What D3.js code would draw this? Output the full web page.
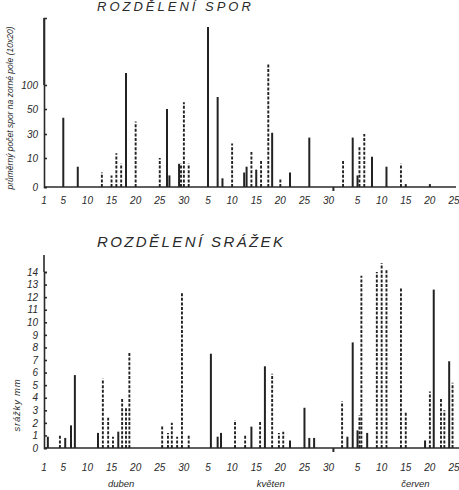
<!DOCTYPE html>
<html>
<head>
<meta charset="utf-8">
<script src="https://cdn.jsdelivr.net/npm/d3@7"></script>
<style>
  body { margin: 0; background: #fff; }
  svg text { font-family: "Liberation Sans", "DejaVu Sans", sans-serif; font-style: italic; fill: #2a2a2a; }
  .axis path, .axis line { stroke: #2a2a2a; stroke-width: 1.6; }
  .bar { stroke: #222; stroke-width: 2; }
  .bar.dash { stroke-dasharray: 3, 1.6; stroke-width: 1.9; }
</style>
</head>
<body>
<div id="chart"></div>
<script>
// day 1 = 1 April, day 31 = 1 May, day 62 = 1 June
var dayTicks   = [1, 5, 10, 15, 20, 25, 30, 35, 40, 45, 50, 55, 60, 66, 71, 76, 81, 86];
var dayLabels  = ["1","5","10","15","20","25","30","5","10","15","20","25","30","5","10","15","20","25"];
var months     = ["duben", "květen", "červen"];
var monthMid   = [17, 48, 78];
var monthEnds  = [61];

// spory: [den, hodnota, druh]  (s = plná čára, d = čárkovaná)
var sporeBars = [
  [5, 43, "s"], [8, 7, "s"], [13, 5, "d"], [15, 4, "d"], [16, 14, "d"], [17, 8, "d"],
  [18, 125, "s"], [20, 40, "d"], [25, 10, "d"], [26.5, 50, "s"], [27, 4, "s"],
  [29, 8, "s"], [29.4, 8, "d"], [30, 64, "d"], [31, 8, "d"],
  [35, 221, "s"], [37, 75, "s"], [38, 3, "s"],
  [40, 22, "d"], [42.5, 5, "s"], [43, 7, "s"], [44, 15, "d"], [45, 6, "s"], [46, 9, "d"],
  [47.5, 144, "d"], [48.3, 31, "s"], [50, 3, "d"], [52, 5, "s"], [56, 27, "s"],
  [63, 9, "d"], [65, 27, "s"], [66, 4, "s"], [66.4, 20, "d"], [67.4, 30, "d"],
  [69, 11, "s"], [72, 7, "s"], [75, 8, "d"], [76, 1, "s"], [81, 1, "s"]
];
var sporeTicks = [0, 10, 30, 50, 100];

// srážky mm: [den, hodnota, druh]
var rainBars = [
  [1.8, 0.9, "s"], [4.3, 1.0, "d"], [5.4, 0.8, "s"], [6.6, 1.8, "s"], [7.4, 5.8, "s"],
  [12.2, 1.2, "s"], [13.2, 5.5, "d"], [14.3, 2.4, "d"], [15.3, 0.9, "d"], [16.4, 1.3, "s"],
  [17.2, 4.0, "d"], [18, 3.2, "d"], [18.7, 7.6, "d"],
  [25.5, 1.8, "d"], [26.7, 1.2, "d"], [27.5, 2.0, "d"], [28.6, 0.9, "d"], [29.6, 12.4, "d"], [31, 1.1, "d"],
  [35.6, 7.5, "s"], [37, 0.9, "s"], [37.7, 1.2, "s"],
  [40.6, 2.2, "d"], [42.7, 1.1, "d"], [44, 1.7, "s"], [45.8, 2.1, "d"], [46.8, 6.5, "s"],
  [48.3, 5.9, "d"], [49.7, 1.2, "d"], [50.6, 1.3, "d"], [52, 0.6, "s"],
  [55, 3.2, "s"], [56, 0.8, "s"], [57, 0.8, "s"],
  [62.8, 3.7, "d"], [63.9, 0.9, "s"], [65, 8.4, "s"], [66, 1.4, "s"], [66.4, 2.6, "d"],
  [66.8, 13.7, "d"], [68, 1.2, "s"], [70, 14.0, "d"], [71, 14.7, "d"], [72, 14.2, "d"],
  [75, 12.7, "d"], [76, 2.9, "d"], [80, 0.6, "s"], [81, 4.5, "d"], [81.8, 12.6, "s"],
  [83.3, 3.9, "d"], [84, 3.0, "d"], [85, 6.9, "s"], [85.7, 5.2, "d"]
];
var rainTicks = d3.range(0, 15);

function BarStrip(){
    /*
    ** Private Variables
    */
    var svg
      , data
      , x
      , y
      , yTicks
      , xLabelY
      , baseRight
    ;

    /*
    ** Main function object
    */
    function my() {
        var g = svg.append("g");
        var y0 = y(0);

        // y axis
        var yAxis = d3.axisLeft(y)
            .tickValues(yTicks)
            .tickSize(-3)
            .tickPadding(6)
            .tickFormat(d3.format("d"))
        ;
        g.append("g")
            .attr("class", "axis")
            .attr("transform", "translate(" + x.range()[0] + ",0)")
            .call(yAxis)
          .call(function(a) {
              a.selectAll("text").style("font-size", "10px");
            })
        ;

        // baseline
        g.append("line")
            .attr("x1", x.range()[0])
            .attr("x2", baseRight)
            .attr("y1", y0)
            .attr("y2", y0)
            .style("stroke", "#2a2a2a")
            .style("stroke-width", 1.6)
        ;
        g.selectAll(".mend")
            .data(monthEnds)
          .enter().append("line")
            .attr("x1", function(d) { return x(d); })
            .attr("x2", function(d) { return x(d); })
            .attr("y1", y0)
            .attr("y2", y0 + 4)
            .style("stroke", "#2a2a2a")
            .style("stroke-width", 2)
        ;

        // day labels
        g.selectAll(".daylab")
            .data(dayTicks)
          .enter().append("text")
            .attr("x", function(d) { return x(d); })
            .attr("y", xLabelY)
            .attr("text-anchor", "middle")
            .style("font-size", "10px")
            .text(function(d, i) { return dayLabels[i]; })
        ;

        // bars
        g.selectAll(".bar")
            .data(data)
          .enter().append("line")
            .attr("class", function(d) { return d[2] === "d" ? "bar dash" : "bar"; })
            .attr("x1", function(d) { return x(d[0]); })
            .attr("x2", function(d) { return x(d[0]); })
            .attr("y1", y0)
            .attr("y2", function(d) { return y(d[1]); })
        ;
    } // my() - Main function object

    /*
    ** API (Getter/Setter) Functions
    */
    my.svg = function (value){
        if(arguments.length === 0) return svg;
        svg = value;
        return my;
    };
    my.data = function (value){
        if(arguments.length === 0) return data;
        data = value;
        return my;
    };
    my.x = function (value){
        if(arguments.length === 0) return x;
        x = value;
        return my;
    };
    my.y = function (value){
        if(arguments.length === 0) return y;
        y = value;
        return my;
    };
    my.yTicks = function (value){
        if(arguments.length === 0) return yTicks;
        yTicks = value;
        return my;
    };
    my.xLabelY = function (value){
        if(arguments.length === 0) return xLabelY;
        xLabelY = value;
        return my;
    };
    my.baseRight = function (value){
        if(arguments.length === 0) return baseRight;
        baseRight = value;
        return my;
    };

    return my;
}

var width = 459, height = 490;
var svg = d3.select("#chart").append("svg")
    .attr("width", width)
    .attr("height", height)
;

var x = d3.scaleLinear().domain([1, 86]).range([44, 454]);

// horní graf má nerovnoměrnou stupnici
var ySpore = d3.scaleLinear()
    .domain([0, 10, 30, 50, 100, 240])
    .range([187, 158, 134, 109, 85, 18])
;
var yRain = d3.scaleLinear().domain([0, 14]).range([448, 272]);

BarStrip()
    .svg(svg)
    .data(sporeBars)
    .x(x)
    .y(ySpore)
    .yTicks(sporeTicks)
    .xLabelY(204)
    .baseRight(456)
  ();

// extend the y axes up
svg.append("line")
    .attr("x1", 44).attr("x2", 44)
    .attr("y1", ySpore(240)).attr("y2", ySpore(100))
    .style("stroke", "#2a2a2a").style("stroke-width", 1.6)
;
svg.append("line")
    .attr("x1", 44).attr("x2", 44)
    .attr("y1", 255).attr("y2", yRain(14))
    .style("stroke", "#2a2a2a").style("stroke-width", 1.6)
;

BarStrip()
    .svg(svg)
    .data(rainBars)
    .x(x)
    .y(yRain)
    .yTicks(rainTicks)
    .xLabelY(471)
    .baseRight(459)
  ();

// titles
svg.append("text")
    .attr("x", 97).attr("y", 11)
    .style("font-size", "13px")
    .style("letter-spacing", "3px")
    .text("ROZDĚLENÍ SPOR")
;
svg.append("text")
    .attr("x", 97).attr("y", 247)
    .style("font-size", "15px")
    .style("letter-spacing", "2.4px")
    .text("ROZDĚLENÍ SRÁŽEK")
;

// axis titles
svg.append("text")
    .attr("transform", "translate(13,108) rotate(-90)")
    .attr("text-anchor", "middle")
    .style("font-size", "8.5px")
    .text("průměrný počet spor na zorné pole (10x20)")
;
svg.append("text")
    .attr("transform", "translate(20,405) rotate(-90)")
    .attr("text-anchor", "middle")
    .style("font-size", "9.5px")
    .style("letter-spacing", "0.8px")
    .text("srážky        mm")
;

// months
svg.selectAll(".month")
    .data(months)
  .enter().append("text")
    .attr("x", function(d, i) { return x(monthMid[i]); })
    .attr("y", 487)
    .attr("text-anchor", "middle")
    .style("font-size", "9.5px")
    .text(function(d) { return d; })
;
</script>
</body>
</html>
